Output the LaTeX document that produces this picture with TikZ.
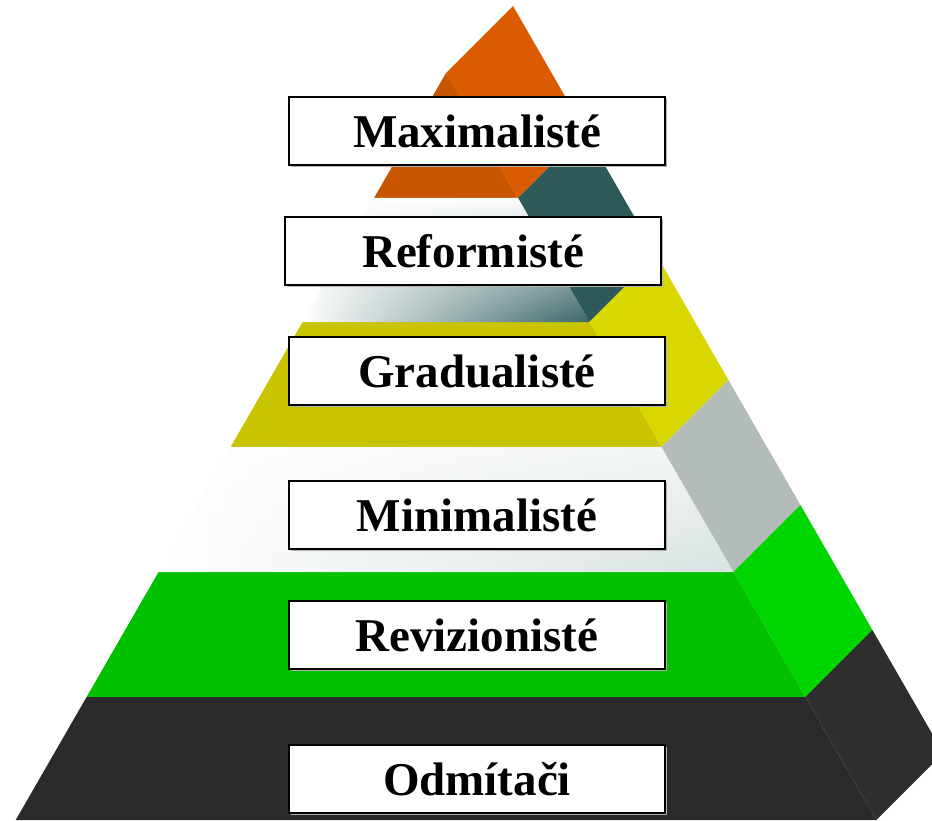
\documentclass[tikz,border=0pt]{standalone}
\usepackage{fontspec}
\setmainfont{Liberation Serif}
\usetikzlibrary{shadows,fadings}

\definecolor{orfront}{HTML}{C85500}
\definecolor{orside}{HTML}{DA5B00}
\definecolor{tealside}{HTML}{2D5A58}
\definecolor{tealfront}{HTML}{3A6565}
\definecolor{yelfront}{HTML}{C8C400}
\definecolor{yelside}{HTML}{D8D800}
\definecolor{greyside}{HTML}{B3BCBB}
\definecolor{greyfront}{HTML}{D9E2E2}
\definecolor{grnfront}{HTML}{00C000}
\definecolor{grnside}{HTML}{00D600}
\definecolor{blkfront}{HTML}{2A2A2A}
\definecolor{blkside}{HTML}{2E2E2E}

\tikzfading[name=fade down, top color=transparent!0, bottom color=transparent!100]

\tikzset{
  layerbox/.style={draw=black, line width=2pt, fill=white,
    minimum width=376pt, minimum height=68pt, inner sep=0pt,
    font=\fontsize{47}{50}\selectfont\bfseries,
    drop shadow={shadow xshift=1.5pt, shadow yshift=-1.5pt, fill=gray!60, opacity=1}}
}

\begin{document}
\begin{tikzpicture}[x=1pt,y=-1pt]
\useasboundingbox (0,0) rectangle (932,820);
\clip (0,0) rectangle (932,820);
% right side faces
\foreach \ya/\yb/\sc in {73/198/orside, 198/322/tealside, 322/447/yelside,
                         447/572/greyside, 572/697/grnside, 697/820/blkside}{
  \fill[\sc] ({446+0.576*(\ya-73)},\ya) -- ({446+0.576*(\yb-73)},\yb)
    -- ({513+0.576*(\yb-73)},{\yb-67}) -- ({513+0.576*(\ya-73)},{\ya-67}) -- cycle;
}
% front faces, plain colours
\foreach \ya/\yb/\fc in {73/198/orfront, 322/447/yelfront, 572/697/grnfront, 697/820/blkfront}{
  \fill[\fc] ({446-0.576*(\ya-73)},\ya) -- ({446+0.576*(\ya-73)},\ya)
    -- ({446+0.576*(\yb-73)},\yb) -- ({446-0.576*(\yb-73)},\yb) -- cycle;
}
% front faces, shaded (lighter towards the top)
\foreach \ya/\yb/\mc/\rc/\op in {198/322/tealfront!40/tealfront/1, 447/572/greyfront!35/greyfront/0.7}{
  \shade[left color=white, middle color=\mc, right color=\rc]
    ({446-0.576*(\ya-73)},\ya) -- ({446+0.576*(\ya-73)},\ya)
    -- ({446+0.576*(\yb-73)},\yb) -- ({446-0.576*(\yb-73)},\yb) -- cycle;
  \fill[white, opacity=\op, path fading=fade down]
    ({446-0.576*(\ya-73)},\ya) -- ({446+0.576*(\ya-73)},\ya)
    -- ({446+0.576*(\yb-73)},\yb) -- ({446-0.576*(\yb-73)},\yb) -- cycle;
}
% labels
\node[layerbox] (maxi) at (477,131) {Maximalisté};
\node[layerbox] (refo) at (473,251) {Reformisté};
\node[layerbox] (grad) at (477,371) {Gradualisté};
\node[layerbox] (mini) at (477,515) {Minimalisté};
\node[layerbox] (revi) at (477,635) {Revizionisté};
\node[layerbox] (odmi) at (477,779) {Odmítači};
\end{tikzpicture}
\end{document}
